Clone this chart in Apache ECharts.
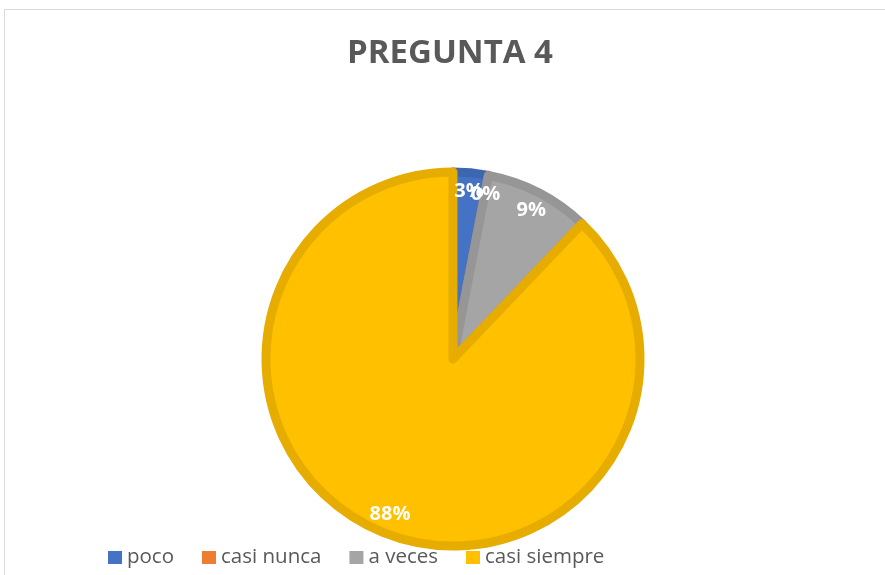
<!DOCTYPE html>
<html>
<head>
<meta charset="utf-8">
<script src="https://cdn.jsdelivr.net/npm/echarts@6/dist/echarts.min.js"></script>
<style>
  html, body { margin: 0; padding: 0; background: #fff; }
  #main { width: 885px; height: 575px; }
</style>
</head>
<body>
<div id="main"></div>
<script>
// datos de la pregunta 4
var categorias = ['poco', 'casi nunca', 'a veces', 'casi siempre'];
var valores = [1, 0, 3, 29];
var colores = ['#4472C4', '#ED7D31', '#A5A5A5', '#FFC000'];
var bordes = ['#3D66B0', '#D4702C', '#969696', '#E6AC00'];

var myChart = echarts.init(document.getElementById('main'));

var datos = categorias.map(function (c, i) {
  return {
    name: c,
    value: valores[i],
    itemStyle: { color: colores[i], borderColor: bordes[i] }
  };
});

myChart.setOption({
  backgroundColor: '#fff',
  title: {
    text: 'PREGUNTA 4',
    left: 342,
    top: 32,
    textStyle: {
      color: '#595959',
      fontFamily: 'Open Sans',
      fontWeight: 'bold',
      fontSize: 33
    }
  },
  legend: {
    bottom: 2,
    left: 103,
    itemWidth: 14,
    itemHeight: 13,
    itemGap: 28,
    icon: 'rect',
    itemStyle: { borderWidth: 0 },
    textStyle: {
      color: '#595959',
      fontFamily: 'Open Sans',
      fontSize: 20.5
    },
    data: categorias
  },
  graphic: [{
    type: 'rect',
    shape: { x: 4.5, y: 9.5, width: 1000, height: 1000 },
    style: { fill: 'none', stroke: '#d9d9d9', lineWidth: 1 },
    silent: true
  }],
  series: [
    {
      name: 'PREGUNTA 4',
      type: 'pie',
      center: [453, 359],
      radius: [0, 187],
      startAngle: 90,
      clockwise: true,
      avoidLabelOverlap: false,
      itemStyle: { borderWidth: 9 },
      label: { show: false },
      labelLine: { show: false },
      data: datos
    },
    {
      // serie transparente solo para colocar las etiquetas cerca del borde
      name: 'etiquetas',
      type: 'pie',
      center: [453, 359],
      radius: [136, 194],
      startAngle: 90,
      clockwise: true,
      minAngle: 0.5,
      minShowLabelAngle: 0,
      silent: true,
      avoidLabelOverlap: false,
      legendHoverLink: false,
      labelLayout: { hideOverlap: false },
      itemStyle: { color: 'transparent', borderWidth: 0 },
      emphasis: { disabled: true },
      label: {
        show: true,
        position: 'inside',
        color: '#fff',
        fontFamily: 'Open Sans',
        fontWeight: 'bold',
        fontSize: 20,
        formatter: function (p) {
          return Math.round(p.percent) + '%';
        }
      },
      labelLine: { show: false },
      data: categorias.map(function (c, i) { return { name: c, value: valores[i] }; })
    }
  ]
});
</script>
</body>
</html>
